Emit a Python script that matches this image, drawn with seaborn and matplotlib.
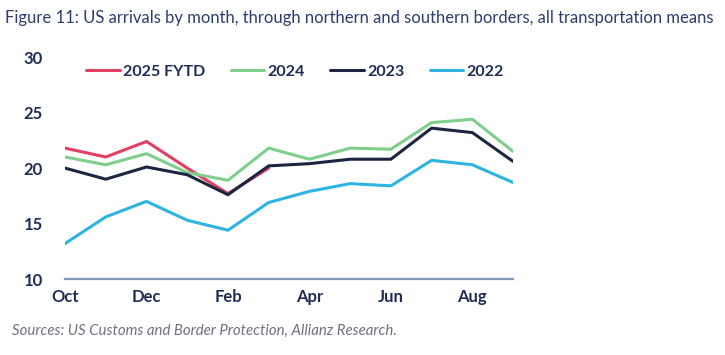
import matplotlib

matplotlib.use("Agg")
import matplotlib.pyplot as plt
import numpy as np
import pandas as pd
import seaborn as sns

months = ["Oct", "Nov", "Dec", "Jan", "Feb", "Mar", "Apr", "May", "Jun", "Jul", "Aug", "Sep"]

# arrivals (millions)
fy2025 = [21.8, 21.0, 22.4, 20.0, 17.7, 20.0]
fy2024 = [21.0, 20.3, 21.3, 19.6, 18.9, 21.8, 20.8, 21.8, 21.7, 24.1, 24.4, 21.5]
fy2023 = [20.0, 19.0, 20.1, 19.4, 17.6, 20.2, 20.4, 20.8, 20.8, 23.6, 23.2, 20.6]
fy2022 = [13.2, 15.6, 17.0, 15.3, 14.4, 16.9, 17.9, 18.6, 18.4, 20.7, 20.3, 18.7]

series_names = ["2025 FYTD", "2024", "2023", "2022"]
colors = ["#e23f62", "#7fcf8c", "#1d2641", "#2db4e2"]

navy = "#1f2d57"

rows = []
for name, vals in zip(series_names, [fy2025, fy2024, fy2023, fy2022]):
    for i, v in enumerate(vals):
        rows.append({"Series": name, "pos": i, "Arrivals": v})
df = pd.DataFrame(rows)

sns.set_style("white")
plt.rcParams["font.family"] = ["Lato", "DejaVu Sans"]

fig = plt.figure(figsize=(7.25, 3.55), dpi=100)
ax = fig.add_axes([0.0897, 0.214, 0.618, 0.625])

sns.lineplot(
    data=df,
    x="pos",
    y="Arrivals",
    hue="Series",
    hue_order=series_names,
    palette=colors,
    lw=2.2,
    ax=ax,
)

ax.set_xlim(0, 11)
ax.set_ylim(10, 30)
ax.set_xticks(range(0, 12, 2))
ax.set_xticklabels(months[::2])
ax.set_yticks([10, 15, 20, 25, 30])
ax.set_xlabel(None)
ax.set_ylabel(None)

for s in ["top", "right", "left"]:
    ax.spines[s].set_visible(False)
ax.spines["bottom"].set_color("#8797ba")
ax.spines["bottom"].set_linewidth(1.6)
ax.tick_params(axis="x", length=0, pad=7, labelsize=12, colors=navy)
ax.tick_params(axis="y", length=0, pad=16, labelsize=12, colors=navy)
for lab in ax.get_xticklabels() + ax.get_yticklabels():
    lab.set_fontweight("bold")

leg = ax.legend(
    loc="upper left",
    bbox_to_anchor=(0.015, 1.03),
    ncol=4,
    frameon=False,
    fontsize=11.5,
    handlelength=2.1,
    handletextpad=0.2,
    columnspacing=1.6,
)
for t in leg.get_texts():
    t.set_color(navy)
    t.set_fontweight("bold")

fig.text(
    0.007,
    0.95,
    "Figure 11: US arrivals by month, through northern and southern borders, all transportation means",
    fontsize=12,
    color="#2c3e6b",
    va="center",
    ha="left",
)
fig.text(
    0.016,
    0.068,
    "Sources: US Customs and Border Protection, Allianz Research.",
    fontsize=10.8,
    color="#6e7280",
    style="italic",
    va="center",
    ha="left",
)

fig.savefig("out.png", dpi=100)
